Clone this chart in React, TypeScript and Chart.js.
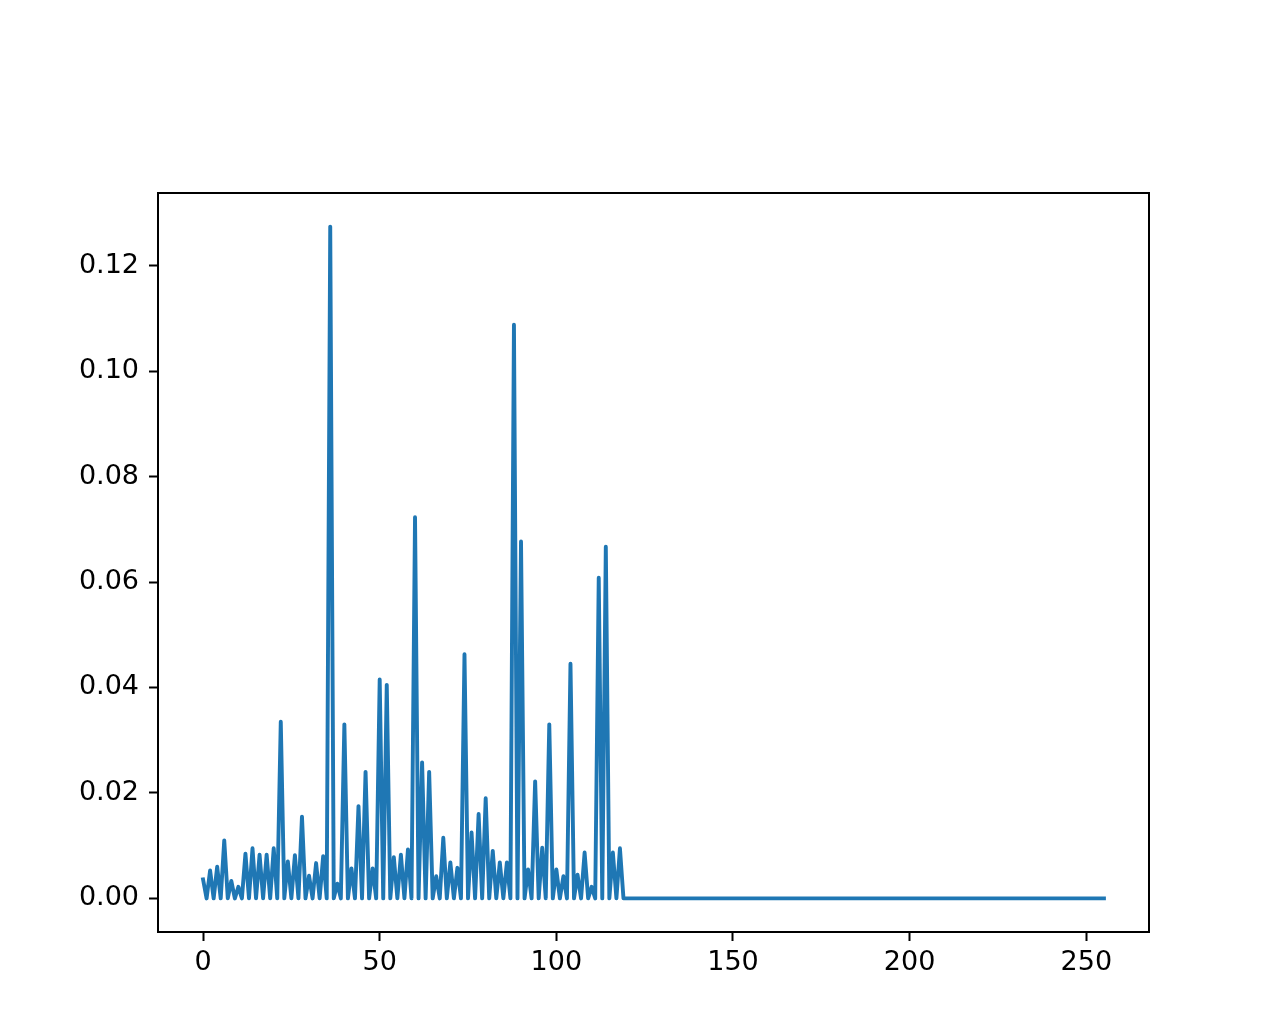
import React, { useEffect, useRef } from "react";
import { Chart, registerables } from "chart.js";

Chart.register(...registerables);

// Signal values at index 0..255
const values: number[] = [
  0.0036, 0, 0.0053, 0, 0.006, 0, 0.011, 0, 0.0033, 0,
  0.0022, 0, 0.0085, 0, 0.0095, 0, 0.0083, 0, 0.0083, 0,
  0.0095, 0, 0.0335, 0, 0.007, 0, 0.0082, 0, 0.0155, 0,
  0.0043, 0, 0.0067, 0, 0.008, 0, 0.1274, 0, 0.0028, 0,
  0.033, 0, 0.0057, 0, 0.0175, 0, 0.024, 0, 0.0057, 0,
  0.0415, 0, 0.0405, 0, 0.0078, 0, 0.0083, 0, 0.0093, 0,
  0.0723, 0, 0.0258, 0, 0.024, 0, 0.0042, 0, 0.0115, 0,
  0.0068, 0, 0.0058, 0, 0.0463, 0, 0.0125, 0, 0.016, 0,
  0.019, 0, 0.009, 0, 0.0068, 0, 0.0068, 0, 0.1088, 0,
  0.0677, 0, 0.0055, 0, 0.0222, 0, 0.0096, 0, 0.033, 0,
  0.0055, 0, 0.0042, 0, 0.0445, 0, 0.0045, 0, 0.0087, 0,
  0.0022, 0, 0.0608, 0, 0.0667, 0, 0.0087, 0, 0.0095, 0,
  0, 0, 0, 0, 0, 0, 0, 0, 0, 0,
  0, 0, 0, 0, 0, 0, 0, 0, 0, 0,
  0, 0, 0, 0, 0, 0, 0, 0, 0, 0,
  0, 0, 0, 0, 0, 0, 0, 0, 0, 0,
  0, 0, 0, 0, 0, 0, 0, 0, 0, 0,
  0, 0, 0, 0, 0, 0, 0, 0, 0, 0,
  0, 0, 0, 0, 0, 0, 0, 0, 0, 0,
  0, 0, 0, 0, 0, 0, 0, 0, 0, 0,
  0, 0, 0, 0, 0, 0, 0, 0, 0, 0,
  0, 0, 0, 0, 0, 0, 0, 0, 0, 0,
  0, 0, 0, 0, 0, 0, 0, 0, 0, 0,
  0, 0, 0, 0, 0, 0, 0, 0, 0, 0,
  0, 0, 0, 0, 0, 0, 0, 0, 0, 0,
  0, 0, 0, 0, 0, 0,
];

const xTicks: number[] = [0, 50, 100, 150, 200, 250];
const yTicks: number[] = [0, 0.02, 0.04, 0.06, 0.08, 0.1, 0.12];

const W = 1271;
const H = 1034;

const framePlugin = {
  id: "frame",
  afterDraw(chart: any) {
    const { ctx, chartArea } = chart;
    ctx.save();
    ctx.strokeStyle = "#000";
    ctx.lineWidth = 2;
    ctx.strokeRect(chartArea.left, chartArea.top, chartArea.right - chartArea.left, chartArea.bottom - chartArea.top);
    ctx.restore();
  },
};

export default function App() {
  const ref = useRef<HTMLCanvasElement | null>(null);

  useEffect(() => {
    if (!ref.current) return;
    const n = values.length;
    const xPad = (n - 1) * 0.05;
    const yMaxData = Math.max(...values);
    const yMinData = Math.min(...values);
    const yPad = (yMaxData - yMinData) * 0.05;
    const font = { family: "'DejaVu Sans', sans-serif", size: 27 };

    const chart = new Chart(ref.current, {
      type: "line",
      data: {
        datasets: [
          {
            data: values.map((v, i) => ({ x: i, y: v })),
            borderColor: "#1f77b4",
            borderWidth: 3.9,
            pointRadius: 0,
            fill: false,
            tension: 0,
            borderJoinStyle: "round",
            borderCapStyle: "square",
          },
        ],
      },
      options: {
        responsive: false,
        animation: false,
        events: [],
        layout: { padding: { left: 0, top: 193, right: 122, bottom: 0 } },
        plugins: { legend: { display: false }, tooltip: { enabled: false } },
        scales: {
          x: {
            type: "linear",
            min: -xPad,
            max: n - 1 + xPad,
            afterFit: (s: any) => {
              s.height = 102;
            },
            afterBuildTicks: (s: any) => {
              s.ticks = xTicks.map((v) => ({ value: v }));
            },
            grid: {
              display: true,
              drawOnChartArea: false,
              drawTicks: true,
              tickLength: 9,
              tickWidth: 2,
              tickColor: "#000",
            },
            border: { display: false },
            ticks: {
              color: "#000",
              font,
              padding: 6,
              maxRotation: 0,
              autoSkip: false,
              callback: (v: any) => String(v),
            },
          },
          y: {
            type: "linear",
            min: yMinData - yPad,
            max: yMaxData + yPad,
            afterFit: (s: any) => {
              s.width = 158;
            },
            afterBuildTicks: (s: any) => {
              s.ticks = yTicks.map((v) => ({ value: v }));
            },
            grid: {
              display: true,
              drawOnChartArea: false,
              drawTicks: true,
              tickLength: 9,
              tickWidth: 2,
              tickColor: "#000",
            },
            border: { display: false },
            ticks: {
              color: "#000",
              font,
              padding: 10,
              autoSkip: false,
              callback: (v: any) => Number(v).toFixed(2),
            },
          },
        },
      },
      plugins: [framePlugin],
    } as any);

    return () => chart.destroy();
  }, []);

  return (
    <div style={{ position: "fixed", left: 0, top: 0, width: W, height: H, background: "#fff" }}>
      <canvas ref={ref} width={W} height={H} style={{ display: "block", width: W, height: H }} />
    </div>
  );
}
